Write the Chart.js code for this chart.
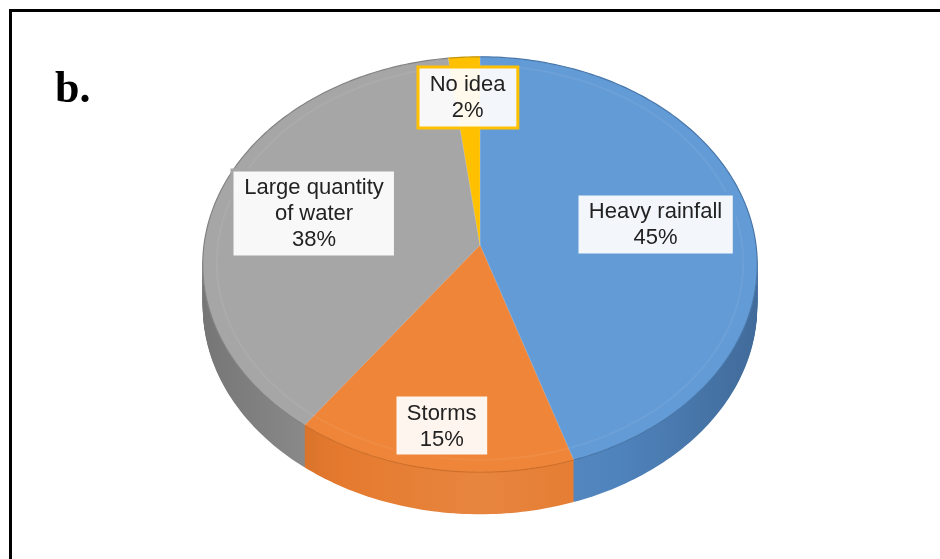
<!DOCTYPE html>
<html>
<head>
<meta charset="utf-8">
<title>Flood causes</title>
<script src="https://cdn.jsdelivr.net/npm/chart.js@4.4.1/dist/chart.umd.min.js"></script>
<style>
  html, body { margin: 0; padding: 0; background: #fff; overflow: hidden; }
  #wrap { position: relative; width: 940px; height: 559px; }
  #chart { position: absolute; left: 0; top: 0; }
  #frame {
    position: absolute; left: 9px; top: 9px; width: 1200px; height: 900px;
    border: 3px solid #000; pointer-events: none;
  }
</style>
</head>
<body>
<div id="wrap">
  <canvas id="chart" width="940" height="559"></canvas>
  <div id="frame"></div>
</div>
<script>
// survey answers, clockwise from 12 o'clock
const categories = ['Heavy rainfall', 'Storms', 'Large quantity of water', 'No idea'];
const shares = [45, 15, 38, 2];
const topColors = ['#639bd6', '#ef8538', '#a6a6a6', '#ffc000'];
const sideColors = ['#4f83bc', '#e57a2e', '#909090', '#d9a200'];
// how far out along each slice its callout sits (fraction of radius)
const labelRadius = [0.65, 0.82, 0.63, 0.77];

const tilt = 0.746;   // vertical squash of the disc
const persp = 0.094;  // near edge drawn bigger than far edge
const depth = 42;     // thickness of the disc in px
const lift = 31;      // apex sits this far above the chart centre

function shade(hex, amt) {
  const n = parseInt(hex.slice(1), 16);
  let r = n >> 16, g = (n >> 8) & 255, b = n & 255;
  const t = amt < 0 ? 0 : 255, p = Math.abs(amt);
  r = Math.round(r + (t - r) * p);
  g = Math.round(g + (t - g) * p);
  b = Math.round(b + (t - b) * p);
  return 'rgb(' + r + ',' + g + ',' + b + ')';
}

function project(el, a, r, dz) {
  const R = el.outerRadius;
  const u = Math.cos(a) * r, v = Math.sin(a) * r;
  const s = 1 / (1 - persp * v);
  return [el.x + R * u * s, el.y - lift + R * tilt * v * s + dz];
}

function slicePath(ctx, el, dz, r) {
  const a0 = el.startAngle, a1 = el.endAngle;
  const steps = Math.max(2, Math.ceil((a1 - a0) / (Math.PI / 180)));
  ctx.beginPath();
  let p = project(el, 0, 0, dz);
  ctx.moveTo(p[0], p[1]);
  for (let i = 0; i <= steps; i++) {
    p = project(el, a0 + (a1 - a0) * i / steps, r, dz);
    ctx.lineTo(p[0], p[1]);
  }
  ctx.closePath();
}

function rimPath(ctx, el, dz, r) {
  const a0 = el.startAngle, a1 = el.endAngle;
  const steps = Math.max(2, Math.ceil((a1 - a0) / (Math.PI / 180)));
  ctx.beginPath();
  for (let i = 0; i <= steps; i++) {
    const p = project(el, a0 + (a1 - a0) * i / steps, r, dz);
    if (i === 0) ctx.moveTo(p[0], p[1]); else ctx.lineTo(p[0], p[1]);
  }
}

function wrapText(ctx, text, maxWidth) {
  const words = text.split(' ');
  const lines = [];
  let line = '';
  for (const w of words) {
    const test = line ? line + ' ' + w : w;
    if (line && ctx.measureText(test).width > maxWidth) {
      lines.push(line);
      line = w;
    } else {
      line = test;
    }
  }
  lines.push(line);
  return lines;
}

const pie3d = {
  id: 'pie3d',
  beforeDatasetsDraw(chart) {
    const ctx = chart.ctx;
    const arcs = chart.getDatasetMeta(0).data;
    ctx.save();
    // extruded side, stacked from the bottom up
    for (let dz = depth; dz > 0; dz--) {
      arcs.forEach((el, i) => {
        const g = ctx.createLinearGradient(el.x - el.outerRadius, 0, el.x + el.outerRadius, 0);
        g.addColorStop(0, shade(sideColors[i], -0.18));
        g.addColorStop(0.25, sideColors[i]);
        g.addColorStop(0.5, shade(sideColors[i], 0.08));
        g.addColorStop(0.75, sideColors[i]);
        g.addColorStop(1, shade(sideColors[i], -0.18));
        ctx.fillStyle = g;
        slicePath(ctx, el, dz, 1);
        ctx.fill();
      });
    }
    // top faces
    arcs.forEach((el, i) => {
      ctx.fillStyle = topColors[i];
      slicePath(ctx, el, 0, 1);
      ctx.fill();
      ctx.strokeStyle = 'rgba(255,255,255,0.15)';
      ctx.lineWidth = 1;
      ctx.stroke();
      // faint bevel ring and rim edge
      ctx.strokeStyle = 'rgba(255,255,255,0.06)';
      ctx.lineWidth = 2;
      rimPath(ctx, el, 0, 0.95);
      ctx.stroke();
      ctx.strokeStyle = shade(sideColors[i], -0.1);
      ctx.lineWidth = 1.2;
      rimPath(ctx, el, 0, 1);
      ctx.stroke();
    });
    ctx.restore();
    return false;
  },
  afterDraw(chart) {
    const ctx = chart.ctx;
    const arcs = chart.getDatasetMeta(0).data;
    const values = chart.data.datasets[0].data;
    ctx.save();
    ctx.font = '22px "Liberation Sans", Arial, sans-serif';
    ctx.textAlign = 'center';
    ctx.textBaseline = 'middle';
    const lh = 26;
    arcs.forEach((el, i) => {
      const mid = (el.startAngle + el.endAngle) / 2;
      const c = project(el, mid, labelRadius[i], 0);
      const lines = wrapText(ctx, chart.data.labels[i], 150);
      lines.push(values[i] + '%');
      const w = Math.max(...lines.map(t => ctx.measureText(t).width)) + 24;
      const h = lines.length * lh + 9;
      const x = Math.round(c[0] - w / 2), y = Math.round(c[1] - h / 2);
      ctx.fillStyle = 'rgba(255,255,255,0.92)';
      ctx.fillRect(x, y, w, h);
      ctx.strokeStyle = topColors[i];
      ctx.lineWidth = 3;
      ctx.strokeRect(x, y, w, h);
      ctx.fillStyle = '#222';
      lines.forEach((t, k) => {
        ctx.fillText(t, c[0], c[1] - (lines.length - 1) * lh / 2 + k * lh + 1);
      });
    });
    // panel letter
    ctx.font = 'bold 44px "Liberation Serif", "Times New Roman", serif';
    ctx.textAlign = 'left';
    ctx.textBaseline = 'alphabetic';
    ctx.fillStyle = '#000';
    ctx.fillText('b.', 55, 102);
    ctx.restore();
  }
};

new Chart(document.getElementById('chart'), {
  type: 'pie',
  data: {
    labels: categories,
    datasets: [{
      data: shares,
      backgroundColor: topColors,
      borderWidth: 0
    }]
  },
  options: {
    responsive: false,
    animation: false,
    layout: { padding: { left: 20, top: 0, right: 0, bottom: 7 } },
    plugins: {
      legend: { display: false },
      tooltip: { enabled: false }
    }
  },
  plugins: [pie3d]
});
</script>
</body>
</html>
